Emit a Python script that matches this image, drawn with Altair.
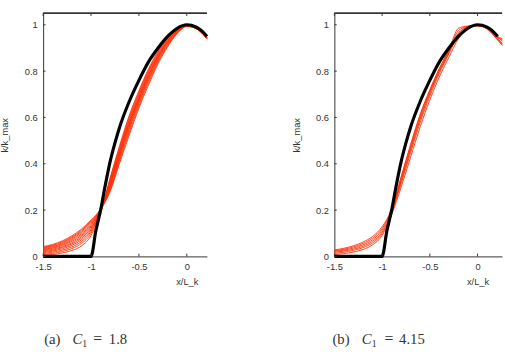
import altair as alt
import pandas as pd

# x sample positions of the profiles in each panel
X_A = [-1.5, -1.4, -1.3, -1.2, -1.1, -1.0, -0.9, -0.8, -0.7, -0.6, -0.5,
       -0.4, -0.3, -0.2, -0.1, 0.0, 0.1, 0.21]
X_B = [-1.5, -1.4, -1.3, -1.2, -1.1, -1.0, -0.9, -0.8, -0.7, -0.6, -0.5,
       -0.4, -0.3, -0.2, -0.1, 0.0, 0.1, 0.2, 0.26]

# reference profile (thick black curve)
BLACK_X = [-1.5, -1.0, -0.95, -0.9, -0.85, -0.8, -0.75, -0.7, -0.6, -0.5,
           -0.4, -0.3, -0.2, -0.1, 0.0, 0.1, 0.2, 0.21, 0.26]
BLACK_Y = [0.0, 0.0, 0.11, 0.2, 0.31, 0.41, 0.49, 0.56, 0.67, 0.76,
           0.84, 0.9, 0.95, 0.985, 1.0, 0.99, 0.955, 0.95, 0.93]

# simulated profiles, C1 = 1.8
RED_A = [
    [0.004, 0.008, 0.015, 0.026, 0.045, 0.09, 0.19, 0.34, 0.48, 0.61, 0.715, 0.81, 0.886, 0.947, 0.982, 0.998, 0.987, 0.947],
    [0.024, 0.031, 0.042, 0.059, 0.085, 0.127, 0.19, 0.335, 0.473, 0.602, 0.708, 0.803, 0.881, 0.943, 0.98, 0.997, 0.986, 0.946],
    [0.012, 0.018, 0.027, 0.041, 0.064, 0.108, 0.195, 0.328, 0.466, 0.595, 0.701, 0.797, 0.876, 0.939, 0.978, 0.997, 0.986, 0.945],
    [0.036, 0.045, 0.059, 0.08, 0.108, 0.148, 0.195, 0.322, 0.459, 0.587, 0.694, 0.791, 0.871, 0.935, 0.977, 0.996, 0.985, 0.944],
    [0.008, 0.013, 0.021, 0.034, 0.056, 0.10, 0.2, 0.316, 0.452, 0.579, 0.687, 0.785, 0.866, 0.931, 0.975, 0.996, 0.985, 0.944],
    [0.03, 0.038, 0.051, 0.07, 0.097, 0.138, 0.2, 0.31, 0.445, 0.571, 0.68, 0.778, 0.861, 0.927, 0.973, 0.995, 0.984, 0.943],
    [0.016, 0.023, 0.033, 0.048, 0.072, 0.115, 0.2, 0.304, 0.438, 0.563, 0.673, 0.771, 0.856, 0.923, 0.971, 0.995, 0.984, 0.942],
    [0.042, 0.052, 0.067, 0.089, 0.118, 0.158, 0.205, 0.298, 0.431, 0.555, 0.666, 0.765, 0.851, 0.919, 0.969, 0.994, 0.984, 0.942],
    [0.02, 0.027, 0.038, 0.054, 0.079, 0.121, 0.2, 0.292, 0.424, 0.547, 0.659, 0.758, 0.845, 0.915, 0.967, 0.994, 0.983, 0.941],
    [0.033, 0.042, 0.055, 0.075, 0.103, 0.143, 0.205, 0.286, 0.415, 0.537, 0.65, 0.75, 0.839, 0.91, 0.965, 0.993, 0.983, 0.94],
    [0.027, 0.035, 0.047, 0.065, 0.091, 0.132, 0.2, 0.28, 0.405, 0.525, 0.64, 0.74, 0.832, 0.905, 0.962, 0.993, 0.983, 0.94],
    [0.039, 0.048, 0.063, 0.084, 0.113, 0.153, 0.203, 0.31, 0.45, 0.575, 0.683, 0.78, 0.862, 0.928, 0.974, 0.996, 0.985, 0.945],
]

# simulated profiles, C1 = 4.15
RED_B = [
    [0.008, 0.012, 0.019, 0.03, 0.05, 0.09, 0.18, 0.30, 0.43, 0.56, 0.675, 0.775, 0.86, 0.94, 0.983, 0.997, 0.983, 0.94, 0.91],
    [0.013, 0.018, 0.026, 0.038, 0.058, 0.098, 0.185, 0.33, 0.47, 0.60, 0.71, 0.80, 0.88, 0.95, 0.988, 0.998, 0.985, 0.945, 0.92],
    [0.018, 0.023, 0.031, 0.044, 0.065, 0.105, 0.19, 0.315, 0.45, 0.58, 0.692, 0.79, 0.875, 0.96, 0.99, 0.995, 0.982, 0.94, 0.915],
    [0.022, 0.027, 0.036, 0.05, 0.072, 0.113, 0.195, 0.34, 0.48, 0.61, 0.715, 0.81, 0.89, 0.965, 0.99, 0.996, 0.985, 0.948, 0.93],
    [0.025, 0.031, 0.041, 0.056, 0.079, 0.12, 0.2, 0.325, 0.462, 0.592, 0.702, 0.8, 0.885, 0.975, 0.993, 0.997, 0.987, 0.95, 0.935],
    [0.028, 0.035, 0.046, 0.062, 0.086, 0.128, 0.205, 0.345, 0.485, 0.615, 0.72, 0.812, 0.892, 0.985, 0.995, 0.998, 0.988, 0.952, 0.94],
]

X_TICKS = [-1.5, -1.0, -0.5, 0.0]
Y_TICKS = [0.0, 0.2, 0.4, 0.6, 0.8, 1.0]
Y_MAX = 1.05

CAPTION_A = ["(a)", "C", "1", "=", "1.8"]
CAPTION_B = ["(b)", "C", "1", "=", "4.15"]

RED = "#ff2e05"
FRAME = "#333333"
H = 248

X_LABELS = ("datum.value == 0 ? '0' : (datum.value < 0 ? '-' + format(-datum.value, '~g')"
            " : format(datum.value, '~g'))")


def panel(xs, reds, xmax, width, caption, cap_x):
    xscale = alt.Scale(domain=[-1.5, xmax], nice=False, zero=False)
    yscale = alt.Scale(domain=[0, Y_MAX], nice=False, zero=False)

    rows = []
    for i, ys in enumerate(reds):
        for x, y in zip(xs, ys):
            rows.append({"run": i, "x": x, "y": y})
    red_df = pd.DataFrame(rows)
    black_df = pd.DataFrame({"x": BLACK_X, "y": BLACK_Y})
    black_df = black_df[black_df["x"] <= xmax + 1e-9]

    zero_px = (0 - (-1.5)) / (xmax + 1.5) * width

    x_axis = alt.Axis(values=X_TICKS, title="x/L_k", labelExpr=X_LABELS,
                      labelFlush=False, labelPadding=5, titleX=zero_px,
                      titleY=21, titleAlign="center", titleBaseline="top")
    y_axis = alt.Axis(values=Y_TICKS, title="k/k_max",
                      labelExpr="format(datum.value, '~g')",
                      labelPadding=6, titleX=-39, titleY=H / 2,
                      titleAlign="center", titleBaseline="middle")

    def X(field=None, datum=None):
        if field is not None:
            return alt.X(field, scale=xscale, axis=x_axis)
        return alt.X(datum=datum, scale=xscale, axis=x_axis)

    def Y(field=None, datum=None):
        if field is not None:
            return alt.Y(field, scale=yscale, axis=y_axis)
        return alt.Y(datum=datum, scale=yscale, axis=y_axis)

    reds_layer = alt.Chart(red_df).mark_line(
        color=RED, strokeWidth=1, interpolate="monotone", opacity=0.9
    ).encode(x=X("x:Q"), y=Y("y:Q"), detail="run:N")

    black_layer = alt.Chart(black_df).mark_line(
        color="black", strokeWidth=3.2, interpolate="monotone"
    ).encode(x=X("x:Q"), y=Y("y:Q"))

    xt = pd.DataFrame({"x": X_TICKS})
    yt = pd.DataFrame({"y": Y_TICKS})
    tick_bottom = alt.Chart(xt).mark_rule(color=FRAME, strokeWidth=1).encode(
        x=X("x:Q"), y=Y(datum=0), y2=alt.Y2(datum=0.012),
    )
    tick_top = alt.Chart(xt).mark_rule(color=FRAME, strokeWidth=1).encode(
        x=X("x:Q"), y=Y(datum=Y_MAX), y2=alt.Y2(datum=Y_MAX - 0.012),
    )
    tick_left = alt.Chart(yt).mark_rule(color=FRAME, strokeWidth=1).encode(
        x=X(datum=-1.5), x2=alt.X2(datum=-1.475), y=Y("y:Q"),
    )
    top_line = alt.Chart(xt).mark_rule(color=FRAME, strokeWidth=1).encode(
        x=alt.value(0), x2=alt.value(width), y=alt.value(0)
    )

    base_y = 337
    font = "Liberation Serif"
    texts = []
    styles = [
        dict(fontSize=15, fontStyle="normal", dy=0),
        dict(fontSize=15, fontStyle="italic", dy=0),
        dict(fontSize=10, fontStyle="normal", dy=3),
        dict(fontSize=16, fontStyle="normal", dy=0),
        dict(fontSize=15, fontStyle="normal", dy=0),
    ]
    for label, px, st in zip(caption, cap_x, styles):
        texts.append(
            alt.Chart(xt.head(1)).mark_text(
                font=font, fontSize=st["fontSize"], fontStyle=st["fontStyle"],
                align="left", baseline="alphabetic", color="#333333",
            ).encode(
                x=alt.value(px), y=alt.value(base_y + st["dy"]),
                text=alt.value(label),
            )
        )

    return alt.layer(
        reds_layer, black_layer, tick_bottom, tick_top, tick_left, top_line,
        *texts
    ).properties(width=width, height=H)


panel_a = panel(X_A, RED_A, 0.21, 167, CAPTION_A, [1, 30, 40, 51, 67])
panel_b = panel(X_B, RED_B, 0.257, 171, CAPTION_B, [-2, 28, 38, 51, 66])

chart = alt.hconcat(panel_a, panel_b, spacing=79).properties(
    padding={"left": 0, "top": 9, "right": 0, "bottom": 0}
).configure_view(stroke=None).configure_axis(
    grid=False, ticks=False, tickSize=0, domainColor=FRAME, domainWidth=1,
    labelFont="Liberation Sans", labelFontSize=9.5, labelColor="#333333",
    titleFont="Liberation Sans", titleFontSize=9.5, titleFontWeight="normal",
    titleColor="#333333",
)

chart.save("out.html", embed_options={"renderer": "svg", "actions": False})
